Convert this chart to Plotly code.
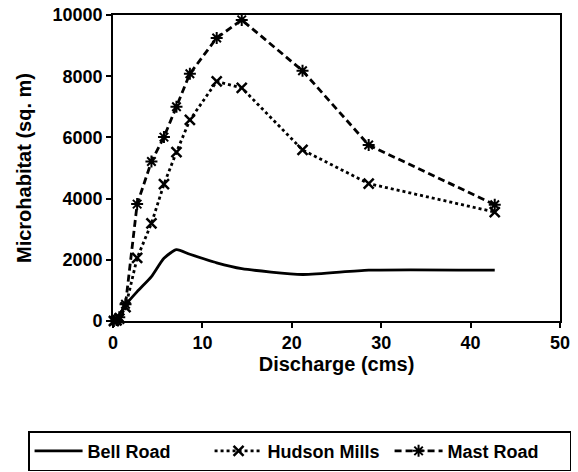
import plotly.graph_objects as go

# Discharge (cms) at which microhabitat area was computed
discharge = [0.1, 0.4, 0.7, 1.4, 2.7, 4.3, 5.7, 7.1, 8.6, 11.6, 14.4, 21.2, 28.6, 42.7]

# Microhabitat area (sq. m) per site
bell_road = [0, 80, 200, 520, 960, 1450, 2050, 2330, 2180, 1900, 1710, 1520, 1660, 1660]
hudson_mills = [0, 20, 80, 450, 2060, 3190, 4470, 5520, 6570, 7830, 7620, 5590, 4490, 3560]
mast_road = [0, 30, 120, 550, 3820, 5210, 6010, 7000, 8080, 9250, 9840, 8180, 5750, 3800]

x_ticks = [0, 10, 20, 30, 40, 50]
y_ticks = [0, 2000, 4000, 6000, 8000, 10000]

FONT = "Liberation Sans, Arial, Helvetica, sans-serif"

fig = go.Figure()

fig.add_trace(go.Scatter(
    x=discharge, y=bell_road, name="Bell Road", mode="lines",
    line=dict(color="black", width=2.8, shape="spline", smoothing=0.6),
    cliponaxis=False,
))
fig.add_trace(go.Scatter(
    x=discharge, y=hudson_mills, name="Hudson Mills", mode="lines+markers",
    line=dict(color="black", width=2.8, dash="dot"),
    marker=dict(symbol="x-thin-open", size=10, color="black",
                line=dict(color="black", width=2.5)),
    cliponaxis=False,
))
fig.add_trace(go.Scatter(
    x=discharge, y=mast_road, name="Mast Road", mode="lines+markers",
    line=dict(color="black", width=2.8, dash="7px,4px"),
    marker=dict(symbol="asterisk-open", size=10, color="black",
                line=dict(color="black", width=2)),
    cliponaxis=False,
))

axis_common = dict(
    showgrid=False, zeroline=False, showline=True, linecolor="black",
    linewidth=1.6, mirror=True, ticks="outside", ticklen=5, tickwidth=1.5,
    tickcolor="black", automargin=False,
    tickfont=dict(family=FONT, size=18, color="black", weight="bold"),
)

fig.update_xaxes(
    range=[0, 50], tickvals=x_ticks, ticktext=[str(v) for v in x_ticks],
    title=dict(text="Discharge (cms)", standoff=4,
               font=dict(family=FONT, size=20, color="black", weight="bold")),
    **axis_common,
)
fig.update_yaxes(
    range=[0, 10000], tickvals=y_ticks, ticktext=[str(v) for v in y_ticks],
    title=dict(text="Microhabitat (sq. m)", standoff=16,
               font=dict(family=FONT, size=20, color="black", weight="bold")),
    **axis_common,
)

fig.update_layout(
    width=578, height=472,
    margin=dict(l=113, r=18, t=15, b=151, autoexpand=False),
    paper_bgcolor="white", plot_bgcolor="white",
    showlegend=True,
    legend=dict(
        orientation="h",
        x=-0.19, xanchor="left",
        y=-0.36, yanchor="top",
        bordercolor="black", borderwidth=1.5, bgcolor="white",
        font=dict(family=FONT, size=18, color="black", weight="bold"),
        entrywidth=117, entrywidthmode="pixels",
        itemwidth=48,
    ),
)

fig.write_html("out.html")
